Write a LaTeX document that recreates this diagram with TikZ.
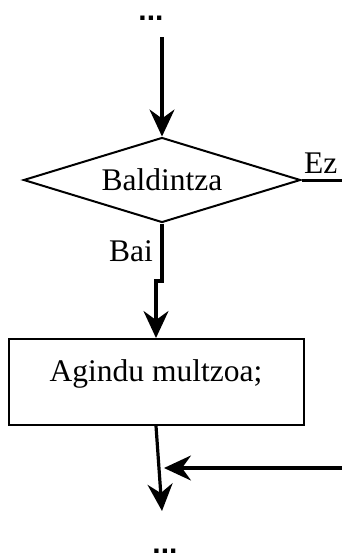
\documentclass[tikz,border=0pt]{standalone}
\usepackage{fontspec}
\setmainfont{Liberation Serif}
\newfontfamily\dotfont{Liberation Sans}
\usetikzlibrary{shapes.geometric,arrows.meta}
\begin{document}
\begin{tikzpicture}[x=1pt,y=-1pt,
  font=\fontsize{31.5}{36}\selectfont,
  shapeline/.style={draw=black,line width=2pt},
  flow/.style={line width=3.2pt,-{Stealth[length=27pt,width=25pt,inset=9pt]}},
  plainline/.style={line width=3pt},
  dots/.style={font=\fontsize{30}{34}\dotfont\bfseries,inner sep=0pt,text height=6pt,text depth=0pt}]
\useasboundingbox (0,0) rectangle (342,557);
\node[dots,anchor=base] (topdots) at (151,20) {...};
\node[dots,anchor=base] (botdots) at (165,553) {...};
\coordinate (topstart) at (162,37);
\node[shapeline,diamond,aspect=3.26,minimum width=277pt,minimum height=85pt,inner sep=0pt] (cond) at (162,180) {Baldintza};
\coordinate (ezend) at (342,180);
\node[anchor=base west,inner sep=0pt] (ez) at (304,173) {Ez};
\node[anchor=base east,inner sep=0pt] (bai) at (153,261) {Bai};
\coordinate (jog1) at (162,281);
\coordinate (jog2) at (156,281);
\node[shapeline,rectangle,minimum width=295pt,minimum height=86pt,inner sep=0pt,text height=21pt,text depth=23pt] (box) at (156,382) {Agindu multzoa;};
\coordinate (botend) at (162,511);
\coordinate (rightstart) at (342,468);
\coordinate (mergept) at (164,468);
\draw[flow] (topstart) -- (cond.north);
\draw[plainline] (cond.east) -- (ezend);
\draw[flow] (cond.south) -- (jog1) -- (jog2) -- (box.north);
\draw[flow] (box.south) -- (botend);
\draw[flow] (rightstart) -- (mergept);
\end{tikzpicture}
\end{document}
